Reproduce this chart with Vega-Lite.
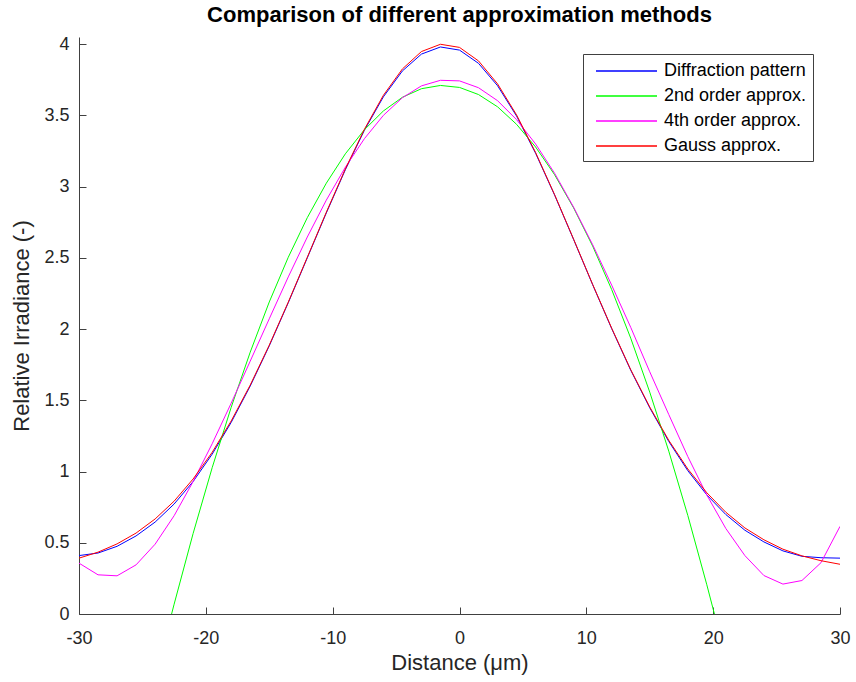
{
  "$schema": "https://vega.github.io/schema/vega-lite/v6.json",
  "width": 761,
  "height": 577,
  "autosize": "none",
  "padding": {"left": 79, "top": 37, "right": 16, "bottom": 68},
  "background": "white",
  "title": {"text": "Comparison of different approximation methods", "font": "Liberation Sans", "fontSize": 22, "fontWeight": "bold", "color": "#000000", "anchor": "middle", "offset": 8},
  "config": {"view": {"stroke": null}},
  "data": {"values": [
    {"x": -30, "y": 0.410, "s": "Diffraction pattern"},
    {"x": -28.5, "y": 0.428, "s": "Diffraction pattern"},
    {"x": -27, "y": 0.475, "s": "Diffraction pattern"},
    {"x": -25.5, "y": 0.548, "s": "Diffraction pattern"},
    {"x": -24, "y": 0.645, "s": "Diffraction pattern"},
    {"x": -22.5, "y": 0.772, "s": "Diffraction pattern"},
    {"x": -21, "y": 0.930, "s": "Diffraction pattern"},
    {"x": -19.5, "y": 1.122, "s": "Diffraction pattern"},
    {"x": -18, "y": 1.345, "s": "Diffraction pattern"},
    {"x": -16.5, "y": 1.600, "s": "Diffraction pattern"},
    {"x": -15, "y": 1.882, "s": "Diffraction pattern"},
    {"x": -13.5, "y": 2.185, "s": "Diffraction pattern"},
    {"x": -12, "y": 2.500, "s": "Diffraction pattern"},
    {"x": -10.5, "y": 2.815, "s": "Diffraction pattern"},
    {"x": -9, "y": 3.118, "s": "Diffraction pattern"},
    {"x": -7.5, "y": 3.395, "s": "Diffraction pattern"},
    {"x": -6, "y": 3.630, "s": "Diffraction pattern"},
    {"x": -4.5, "y": 3.812, "s": "Diffraction pattern"},
    {"x": -3, "y": 3.930, "s": "Diffraction pattern"},
    {"x": -1.5, "y": 3.980, "s": "Diffraction pattern"},
    {"x": 0, "y": 3.958, "s": "Diffraction pattern"},
    {"x": 1.5, "y": 3.865, "s": "Diffraction pattern"},
    {"x": 3, "y": 3.708, "s": "Diffraction pattern"},
    {"x": 4.5, "y": 3.495, "s": "Diffraction pattern"},
    {"x": 6, "y": 3.234, "s": "Diffraction pattern"},
    {"x": 7.5, "y": 2.940, "s": "Diffraction pattern"},
    {"x": 9, "y": 2.628, "s": "Diffraction pattern"},
    {"x": 10.5, "y": 2.311, "s": "Diffraction pattern"},
    {"x": 12, "y": 2.003, "s": "Diffraction pattern"},
    {"x": 13.5, "y": 1.711, "s": "Diffraction pattern"},
    {"x": 15, "y": 1.447, "s": "Diffraction pattern"},
    {"x": 16.5, "y": 1.211, "s": "Diffraction pattern"},
    {"x": 18, "y": 1.006, "s": "Diffraction pattern"},
    {"x": 19.5, "y": 0.836, "s": "Diffraction pattern"},
    {"x": 21, "y": 0.698, "s": "Diffraction pattern"},
    {"x": 22.5, "y": 0.588, "s": "Diffraction pattern"},
    {"x": 24, "y": 0.506, "s": "Diffraction pattern"},
    {"x": 25.5, "y": 0.443, "s": "Diffraction pattern"},
    {"x": 27, "y": 0.405, "s": "Diffraction pattern"},
    {"x": 28.5, "y": 0.395, "s": "Diffraction pattern"},
    {"x": 30, "y": 0.392, "s": "Diffraction pattern"},

    {"x": -22.7, "y": 0, "s": "2nd order approx."},
    {"x": -22.5, "y": 0.069, "s": "2nd order approx."},
    {"x": -21, "y": 0.566, "s": "2nd order approx."},
    {"x": -19.5, "y": 1.027, "s": "2nd order approx."},
    {"x": -18, "y": 1.451, "s": "2nd order approx."},
    {"x": -16.5, "y": 1.838, "s": "2nd order approx."},
    {"x": -15, "y": 2.190, "s": "2nd order approx."},
    {"x": -13.5, "y": 2.504, "s": "2nd order approx."},
    {"x": -12, "y": 2.782, "s": "2nd order approx."},
    {"x": -10.5, "y": 3.024, "s": "2nd order approx."},
    {"x": -9, "y": 3.230, "s": "2nd order approx."},
    {"x": -7.5, "y": 3.399, "s": "2nd order approx."},
    {"x": -6, "y": 3.531, "s": "2nd order approx."},
    {"x": -4.5, "y": 3.627, "s": "2nd order approx."},
    {"x": -3, "y": 3.687, "s": "2nd order approx."},
    {"x": -1.5, "y": 3.710, "s": "2nd order approx."},
    {"x": 0, "y": 3.696, "s": "2nd order approx."},
    {"x": 1.5, "y": 3.646, "s": "2nd order approx."},
    {"x": 3, "y": 3.560, "s": "2nd order approx."},
    {"x": 4.5, "y": 3.437, "s": "2nd order approx."},
    {"x": 6, "y": 3.278, "s": "2nd order approx."},
    {"x": 7.5, "y": 3.083, "s": "2nd order approx."},
    {"x": 9, "y": 2.850, "s": "2nd order approx."},
    {"x": 10.5, "y": 2.582, "s": "2nd order approx."},
    {"x": 12, "y": 2.277, "s": "2nd order approx."},
    {"x": 13.5, "y": 1.936, "s": "2nd order approx."},
    {"x": 15, "y": 1.557, "s": "2nd order approx."},
    {"x": 16.5, "y": 1.143, "s": "2nd order approx."},
    {"x": 18, "y": 0.692, "s": "2nd order approx."},
    {"x": 19.5, "y": 0.205, "s": "2nd order approx."},
    {"x": 20.1, "y": 0, "s": "2nd order approx."},

    {"x": -30, "y": 0.357, "s": "4th order approx."},
    {"x": -28.5, "y": 0.275, "s": "4th order approx."},
    {"x": -27, "y": 0.268, "s": "4th order approx."},
    {"x": -25.5, "y": 0.345, "s": "4th order approx."},
    {"x": -24, "y": 0.490, "s": "4th order approx."},
    {"x": -22.5, "y": 0.690, "s": "4th order approx."},
    {"x": -21, "y": 0.930, "s": "4th order approx."},
    {"x": -19.5, "y": 1.195, "s": "4th order approx."},
    {"x": -18, "y": 1.480, "s": "4th order approx."},
    {"x": -16.5, "y": 1.775, "s": "4th order approx."},
    {"x": -15, "y": 2.072, "s": "4th order approx."},
    {"x": -13.5, "y": 2.366, "s": "4th order approx."},
    {"x": -12, "y": 2.646, "s": "4th order approx."},
    {"x": -10.5, "y": 2.905, "s": "4th order approx."},
    {"x": -9, "y": 3.136, "s": "4th order approx."},
    {"x": -7.5, "y": 3.336, "s": "4th order approx."},
    {"x": -6, "y": 3.500, "s": "4th order approx."},
    {"x": -4.5, "y": 3.624, "s": "4th order approx."},
    {"x": -3, "y": 3.707, "s": "4th order approx."},
    {"x": -1.5, "y": 3.746, "s": "4th order approx."},
    {"x": 0, "y": 3.742, "s": "4th order approx."},
    {"x": 1.5, "y": 3.694, "s": "4th order approx."},
    {"x": 3, "y": 3.603, "s": "4th order approx."},
    {"x": 4.5, "y": 3.470, "s": "4th order approx."},
    {"x": 6, "y": 3.299, "s": "4th order approx."},
    {"x": 7.5, "y": 3.093, "s": "4th order approx."},
    {"x": 9, "y": 2.855, "s": "4th order approx."},
    {"x": 10.5, "y": 2.592, "s": "4th order approx."},
    {"x": 12, "y": 2.308, "s": "4th order approx."},
    {"x": 13.5, "y": 2.012, "s": "4th order approx."},
    {"x": 15, "y": 1.700, "s": "4th order approx."},
    {"x": 16.5, "y": 1.400, "s": "4th order approx."},
    {"x": 18, "y": 1.105, "s": "4th order approx."},
    {"x": 19.5, "y": 0.835, "s": "4th order approx."},
    {"x": 21, "y": 0.600, "s": "4th order approx."},
    {"x": 22.5, "y": 0.410, "s": "4th order approx."},
    {"x": 24, "y": 0.270, "s": "4th order approx."},
    {"x": 25.5, "y": 0.210, "s": "4th order approx."},
    {"x": 27, "y": 0.235, "s": "4th order approx."},
    {"x": 28.5, "y": 0.360, "s": "4th order approx."},
    {"x": 30, "y": 0.615, "s": "4th order approx."},

    {"x": -30, "y": 0.392, "s": "Gauss approx."},
    {"x": -28.5, "y": 0.434, "s": "Gauss approx."},
    {"x": -27, "y": 0.492, "s": "Gauss approx."},
    {"x": -25.5, "y": 0.568, "s": "Gauss approx."},
    {"x": -24, "y": 0.667, "s": "Gauss approx."},
    {"x": -22.5, "y": 0.792, "s": "Gauss approx."},
    {"x": -21, "y": 0.948, "s": "Gauss approx."},
    {"x": -19.5, "y": 1.135, "s": "Gauss approx."},
    {"x": -18, "y": 1.355, "s": "Gauss approx."},
    {"x": -16.5, "y": 1.607, "s": "Gauss approx."},
    {"x": -15, "y": 1.887, "s": "Gauss approx."},
    {"x": -13.5, "y": 2.189, "s": "Gauss approx."},
    {"x": -12, "y": 2.504, "s": "Gauss approx."},
    {"x": -10.5, "y": 2.820, "s": "Gauss approx."},
    {"x": -9, "y": 3.124, "s": "Gauss approx."},
    {"x": -7.5, "y": 3.402, "s": "Gauss approx."},
    {"x": -6, "y": 3.641, "s": "Gauss approx."},
    {"x": -4.5, "y": 3.826, "s": "Gauss approx."},
    {"x": -3, "y": 3.948, "s": "Gauss approx."},
    {"x": -1.5, "y": 3.999, "s": "Gauss approx."},
    {"x": 0, "y": 3.977, "s": "Gauss approx."},
    {"x": 1.5, "y": 3.882, "s": "Gauss approx."},
    {"x": 3, "y": 3.721, "s": "Gauss approx."},
    {"x": 4.5, "y": 3.503, "s": "Gauss approx."},
    {"x": 6, "y": 3.239, "s": "Gauss approx."},
    {"x": 7.5, "y": 2.943, "s": "Gauss approx."},
    {"x": 9, "y": 2.630, "s": "Gauss approx."},
    {"x": 10.5, "y": 2.313, "s": "Gauss approx."},
    {"x": 12, "y": 2.006, "s": "Gauss approx."},
    {"x": 13.5, "y": 1.715, "s": "Gauss approx."},
    {"x": 15, "y": 1.453, "s": "Gauss approx."},
    {"x": 16.5, "y": 1.219, "s": "Gauss approx."},
    {"x": 18, "y": 1.018, "s": "Gauss approx."},
    {"x": 19.5, "y": 0.851, "s": "Gauss approx."},
    {"x": 21, "y": 0.714, "s": "Gauss approx."},
    {"x": 22.5, "y": 0.604, "s": "Gauss approx."},
    {"x": 24, "y": 0.521, "s": "Gauss approx."},
    {"x": 25.5, "y": 0.455, "s": "Gauss approx."},
    {"x": 27, "y": 0.408, "s": "Gauss approx."},
    {"x": 28.5, "y": 0.374, "s": "Gauss approx."},
    {"x": 30, "y": 0.349, "s": "Gauss approx."}
  ]},
  "mark": {"type": "line", "strokeWidth": 1, "clip": true},
  "encoding": {
    "x": {
      "field": "x", "type": "quantitative",
      "scale": {"domain": [-30, 30], "nice": false, "zero": false},
      "axis": {
        "title": "Distance (μm)", "values": [-30, -20, -10, 0, 10, 20, 30],
        "labelExpr": "'' + datum.value", "labelFlush": false, "labelOverlap": false,
        "grid": false, "domainColor": "#404040", "tickColor": "#404040", "tickSize": -7, "tickWidth": 1,
        "labelPadding": 22, "labelFont": "Liberation Sans", "labelFontSize": 18, "labelColor": "#262626",
        "titleFont": "Liberation Sans", "titleFontSize": 22, "titleFontWeight": "normal", "titleColor": "#262626", "titlePadding": 5
      }
    },
    "y": {
      "field": "y", "type": "quantitative",
      "scale": {"domain": [0, 4.05], "nice": false},
      "axis": {
        "title": "Relative Irradiance (-)", "values": [0, 0.5, 1, 1.5, 2, 2.5, 3, 3.5, 4],
        "labelExpr": "'' + datum.value", "labelFlush": false, "labelOverlap": false,
        "grid": false, "domainColor": "#404040", "tickColor": "#404040", "tickSize": -7, "tickWidth": 1,
        "labelPadding": 17, "labelFont": "Liberation Sans", "labelFontSize": 18, "labelColor": "#262626",
        "titleFont": "Liberation Sans", "titleFontSize": 22, "titleFontWeight": "normal", "titleColor": "#262626", "titlePadding": 10
      }
    },
    "color": {
      "field": "s", "type": "nominal",
      "scale": {"domain": ["Diffraction pattern", "2nd order approx.", "4th order approx.", "Gauss approx."], "range": ["#0000ff", "#00ff00", "#ff00ff", "#ff0000"]},
      "legend": {
        "title": null, "orient": "none", "legendX": 504, "legendY": 17,
        "fillColor": "white", "strokeColor": "#404040", "padding": 6,
        "symbolType": "M-0.4,0H5.7", "symbolSize": 400, "symbolStrokeWidth": 1.5, "symbolOpacity": 1,
        "labelExpr": "datum.label + '\u00a0\u00a0\u00a0\u00a0'",
        "labelFont": "Liberation Sans", "labelFontSize": 18, "labelColor": "#000000", "labelOffset": 53, "rowPadding": 5
      }
    },
    "order": {"field": "x", "type": "quantitative"}
  }
}
